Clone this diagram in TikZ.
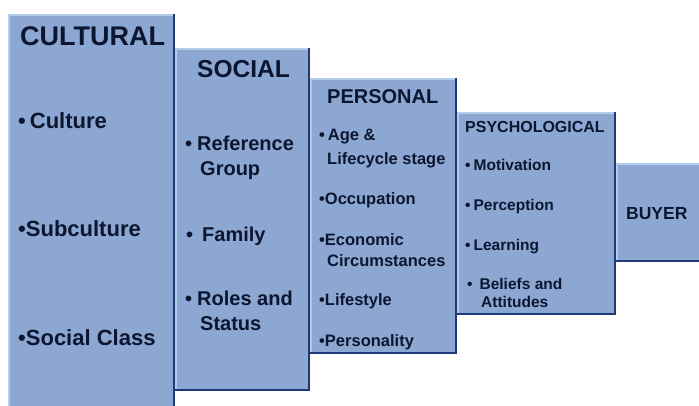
\documentclass[tikz,border=0pt]{standalone}
\usepackage{fontspec}
\setmainfont{Liberation Sans}
\definecolor{boxfill}{RGB}{140,167,209}
\definecolor{boxedge}{RGB}{30,56,122}
\definecolor{boxlight}{RGB}{178,204,234}
\definecolor{ink}{RGB}{12,22,48}
\tikzset{
  box/.style={fill=boxfill, rectangle, inner sep=0pt, outer sep=0pt, anchor=north west},
  hi/.style={draw=boxlight, line width=1.6pt, line cap=rect},
  lo/.style={draw=boxedge, line width=2pt, line cap=rect},
  txt/.style={inner sep=0pt, anchor=base west, text=ink, font=\bfseries\fontsize{#1}{#1}\selectfont},
}
\newcommand{\bevel}[1]{%
  \draw[hi] ([xshift=1pt,yshift=1pt]#1.south west) -- ([xshift=1pt,yshift=-1pt]#1.north west) -- ([xshift=-1pt,yshift=-1pt]#1.north east);
  \draw[lo] ([xshift=-1pt,yshift=-1pt]#1.north east) -- ([xshift=-1pt,yshift=1pt]#1.south east) -- ([xshift=1pt,yshift=1pt]#1.south west);
}
\begin{document}
\begin{tikzpicture}[x=1pt,y=-1pt]
\useasboundingbox (0,0) rectangle (699,405);
\fill[white] (0,0) rectangle (699,405);
% boxes
\node[box, minimum width=167pt, minimum height=400pt] (cult) at (8,14) {};
\bevel{cult}
\node[box, minimum width=135pt, minimum height=343pt] (soc) at (175,48) {};
\bevel{soc}
\node[box, minimum width=147pt, minimum height=276pt] (pers) at (310,78) {};
\bevel{pers}
\node[box, minimum width=159pt, minimum height=203pt] (psy) at (457,112) {};
\bevel{psy}
\node[box, minimum width=90pt, minimum height=99pt] (buy) at (616,163) {};
\bevel{buy}
% CULTURAL
\node[txt=27] (t1) at (20,45) {CULTURAL};
\node[txt=22] (c1) at (18,128) {•\hspace{4pt}Culture};
\node[txt=22] (c2) at (18,236) {•Subculture};
\node[txt=22] (c3) at (18,345) {•Social Class};
% SOCIAL
\node[txt=24.5] (t2) at (197,77) {SOCIAL};
\node[txt=20] (s1) at (185,150) {•\hspace{5pt}Reference};
\node[txt=20] (s1b) at (200,175) {Group};
\node[txt=20] (s2) at (186,241) {•\hspace{9pt}Family};
\node[txt=20] (s3) at (185,305) {•\hspace{5pt}Roles and};
\node[txt=20] (s3b) at (200,330) {Status};
% PERSONAL
\node[txt=20] (t3) at (327,103) {PERSONAL};
\node[txt=16.5] (p1) at (319,140) {•\hspace{3pt}Age \&};
\node[txt=16.5] (p1b) at (327,164) {Lifecycle stage};
\node[txt=16.5] (p2) at (319,204) {•Occupation};
\node[txt=16.5] (p3) at (319,245) {•Economic};
\node[txt=16.5] (p3b) at (327,266) {Circumstances};
\node[txt=16.5] (p4) at (319,305) {•Lifestyle};
\node[txt=16.5] (p5) at (319,346) {•Personality};
% PSYCHOLOGICAL
\node[txt=16] (t4) at (465,132) {PSYCHOLOGICAL};
\node[txt=15.5] (y1) at (465,170) {•\hspace{3pt}Motivation};
\node[txt=15.5] (y2) at (465,210) {•\hspace{3pt}Perception};
\node[txt=15.5] (y3) at (465,250) {•\hspace{3pt}Learning};
\node[txt=15.5] (y4) at (467,289) {•\hspace{7pt}Beliefs and};
\node[txt=15.5] (y4b) at (481,307) {Attitudes};
% BUYER
\node[txt=17.5] (t5) at (626,219) {BUYER};
\end{tikzpicture}
\end{document}
